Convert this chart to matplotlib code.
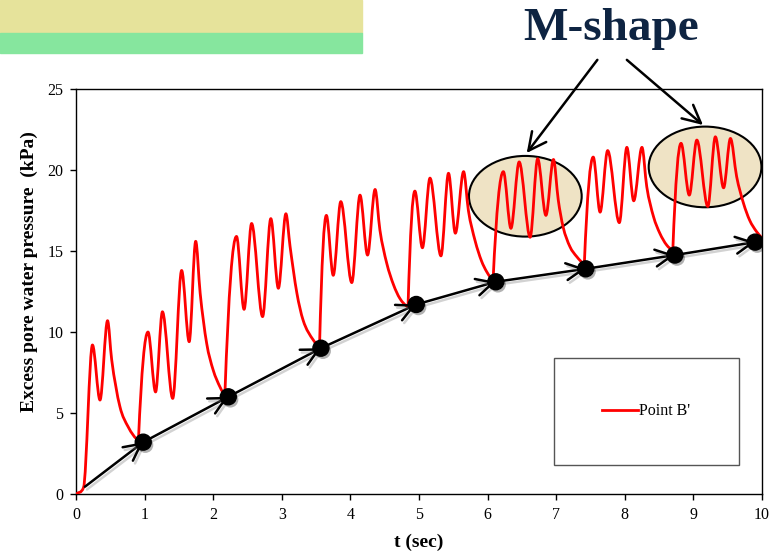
import numpy as np
import matplotlib.pyplot as plt
import matplotlib.patheffects as pe
from matplotlib.path import Path
from matplotlib.patches import PathPatch, Ellipse, Rectangle
from matplotlib.lines import Line2D

plt.rcParams['font.family'] = ['Liberation Serif', 'DejaVu Serif']

# excess pore water pressure at point B' (peaks, troughs and points along each decay)
t_b = [0.00, 0.11, 0.24, 0.35, 0.46, 0.52, 0.64, 0.76, 0.91,
       1.05, 1.16, 1.26, 1.41, 1.54, 1.65, 1.745, 1.81, 1.905, 2.00, 2.10, 2.17,
       2.34, 2.45, 2.56, 2.72, 2.84, 2.95, 3.06, 3.12, 3.22, 3.31, 3.46, 3.55,
       3.65, 3.75, 3.86, 4.02, 4.14, 4.25, 4.36, 4.43, 4.53, 4.63, 4.72, 4.84,
       4.94, 5.05, 5.16, 5.32, 5.43, 5.53, 5.65, 5.72, 5.82, 5.91, 5.99, 6.08,
       6.23, 6.34, 6.46, 6.62, 6.73, 6.85, 6.96, 7.03, 7.10, 7.20, 7.30, 7.41,
       7.54, 7.64, 7.75, 7.92, 8.03, 8.13, 8.25, 8.32, 8.42, 8.51, 8.61, 8.70,
       8.82, 8.94, 9.05, 9.21, 9.32, 9.44, 9.54, 9.63, 9.73, 9.82, 9.92, 10.0]
p_b = [0.0, 0.4, 9.2, 5.8, 10.7, 8.3, 5.4, 4.15, 3.3,
       10.0, 6.3, 11.25, 5.9, 13.8, 9.4, 15.6, 12.4, 9.3, 7.65, 6.6, 6.1,
       15.9, 11.4, 16.7, 10.95, 17.0, 12.7, 17.3, 15.3, 12.4, 10.74, 9.5, 9.1,
       17.2, 13.5, 18.05, 13.05, 18.45, 14.75, 18.8, 16.3, 14.24, 12.9, 12.08, 11.55,
       18.7, 15.2, 19.5, 14.7, 19.8, 16.1, 19.9, 17.5, 15.6, 14.4, 13.7, 13.2,
       19.9, 16.4, 20.5, 15.85, 20.7, 17.2, 20.65, 18.15, 16.5, 15.27, 14.65, 14.2,
       20.8, 17.4, 21.2, 16.75, 21.4, 18.1, 21.4, 18.97, 17.1, 16.1, 15.37, 15.05,
       21.65, 18.45, 21.85, 17.75, 22.05, 18.9, 21.95, 19.6, 17.95, 16.9, 16.2, 15.8]

# residual pressure after each loading cycle
t_res = [0.13, 0.98, 2.22, 3.57, 4.96, 6.12, 7.43, 8.73, 9.90]
p_res = [0.45, 3.2, 6.0, 9.0, 11.7, 13.1, 13.9, 14.75, 15.55]

# highlighted groups of peaks: (t centre, p centre)
m_centres = [(6.55, 18.38), (9.17, 20.19)]


def smooth_path(t, p):
    """Cubic Bezier path through the points, flat at peaks/troughs,
    with a sharp kink where a decay ends and the next cycle starts."""
    t = np.asarray(t, float)
    p = np.asarray(p, float)
    n = len(t)
    sec = np.diff(p) / np.diff(t)
    s_in = np.zeros(n)
    s_out = np.zeros(n)
    for i in range(n):
        left = sec[i - 1] if i > 0 else sec[0]
        right = sec[i] if i < n - 1 else sec[-1]
        if left * right <= 0:
            if left < 0 and i > 1 and sec[i - 2] < 0:
                s_in[i] = 0.5 * left
                s_out[i] = 2.0 * right
        else:
            s = 0.5 * (left + right)
            lim = 3 * min(abs(left), abs(right))
            s_in[i] = s_out[i] = np.sign(s) * min(abs(s), lim)
    verts = [(t[0], p[0])]
    codes = [Path.MOVETO]
    for i in range(n - 1):
        dt = t[i + 1] - t[i]
        verts += [(t[i] + dt / 3, p[i] + s_out[i] * dt / 3),
                  (t[i + 1] - dt / 3, p[i + 1] - s_in[i + 1] * dt / 3),
                  (t[i + 1], p[i + 1])]
        codes += [Path.CURVE4] * 3
    return Path(verts, codes)


fig = plt.figure(figsize=(7.77, 5.55), dpi=100)
ax = fig.add_axes([0.0978, 0.1099, 0.8829, 0.7297])

# banner strips in the top-left corner
fig.patches.append(Rectangle((0, 1 - 33 / 555), 362 / 777, 33 / 555,
                             transform=fig.transFigure, color='#E6E39B', zorder=0))
fig.patches.append(Rectangle((0, 1 - 53 / 555), 362 / 777, 20 / 555,
                             transform=fig.transFigure, color='#86E69E', zorder=0))

for tc, pc in m_centres:
    ax.add_patch(Ellipse((tc, pc), 1.643, 4.98, facecolor='#EFE3C5',
                         edgecolor='black', lw=1.5, zorder=2, clip_on=False))

ax.add_patch(PathPatch(smooth_path(t_b, p_b), fill=False, edgecolor='red',
                       lw=2.0, zorder=3, capstyle='round', joinstyle='round'))

shadow = [pe.SimpleLineShadow(offset=(1.5, -2), shadow_color='gray', alpha=0.35),
          pe.Normal()]
for i in range(len(t_res) - 1):
    ax.annotate('', xy=(t_res[i + 1], p_res[i + 1]), xytext=(t_res[i], p_res[i]),
                arrowprops=dict(arrowstyle='->,head_length=0.75,head_width=0.38',
                                color='black', lw=1.8, mutation_scale=16,
                                shrinkA=0, shrinkB=0, path_effects=shadow), zorder=4)
ax.plot(t_res[1:], p_res[1:], 'o', color='black', markersize=11.5, zorder=5,
        path_effects=[pe.SimplePatchShadow(offset=(1.5, -2), alpha=0.3), pe.Normal()])

ax.set_xlim(0, 10)
ax.set_ylim(0, 25)
ax.set_xticks(range(0, 11))
ax.set_yticks(range(0, 26, 5))
ax.tick_params(direction='out', length=4, width=1, labelsize=11.5, pad=5)
for s in ax.spines.values():
    s.set_linewidth(1.0)

ax.set_xlabel('t (sec)', fontsize=14, fontweight='bold', labelpad=8)
ax.set_ylabel('Excess pore water pressure  (kPa)', fontsize=14, fontweight='bold')
ax.yaxis.set_label_coords(-0.056, 0.55)

# legend in its own framed box
ax.add_patch(Rectangle((0.697, 0.0716), 0.269, 0.264, transform=ax.transAxes,
                       fill=False, edgecolor='#555555', lw=1.0, zorder=6))
ax.legend(handles=[Line2D([], [], color='red', lw=2.0, label="Point B'")],
          loc='center', bbox_to_anchor=(0.8315, 0.204), frameon=False,
          fontsize=11.5, handlelength=2.2, handletextpad=0.1)

fig.text(611.5 / 777, 1 - 40 / 555, 'M-shape', ha='center', va='baseline',
         fontsize=34, fontweight='bold', color='#0E2442')

ax.annotate('', xy=(6.57, 21.05), xytext=(7.60, 26.8), annotation_clip=False,
            arrowprops=dict(arrowstyle='->,head_length=0.8,head_width=0.4',
                            color='black', lw=1.8, mutation_scale=16, shrinkA=0, shrinkB=0))
ax.annotate('', xy=(9.14, 22.78), xytext=(8.03, 26.8), annotation_clip=False,
            arrowprops=dict(arrowstyle='->,head_length=0.8,head_width=0.4',
                            color='black', lw=1.8, mutation_scale=16, shrinkA=0, shrinkB=0))

fig.savefig('out.png', dpi=100)
